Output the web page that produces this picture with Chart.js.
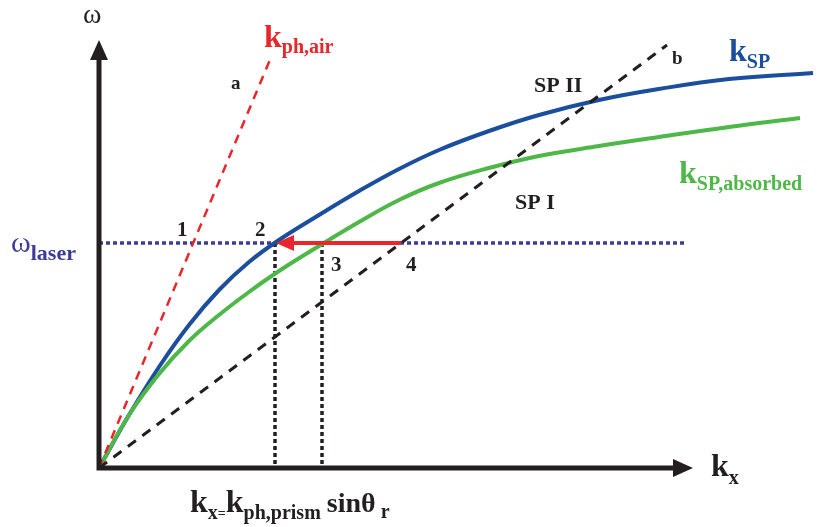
<!DOCTYPE html>
<html>
<head>
<meta charset="utf-8">
<script src="https://cdn.jsdelivr.net/npm/chart.js@4.4.1/dist/chart.umd.min.js"></script>
<style>
  body { margin: 0; background: #fff; }
  canvas { display: block; }
</style>
</head>
<body>
<canvas id="chart" width="822" height="527"></canvas>
<script>
// dispersion curves (kx, omega)
const kspPoints = [[0,0],[30,53],[60,101],[90,143],[120,178],[150,206],[180,228],[220,253],[260,277],[300,299],[340,318],[390,337],[440,353],[500,368],[560,379],[630,389],[714,395]];
const absorbedPoints = [[0,0],[30,53],[60,94],[90,127],[120,153],[150,176],[180,197],[220,222],[260,246],[300,268],[340,285],[390,300],[440,312],[500,322],[560,331],[630,341],[701,350]];
const airLine = [[0,0],[173,413]];
const prismLine = [[0,0],[568,423]];
const omegaLaser = 225;
const laserEnd = 587;
const k2 = 176;   // coupling point 2 (on k_SP)
const k3 = 223;   // coupling point 3 (on absorbed)
const k4 = 302;   // point 4 (prism line)
const axisEnd = { x: 594, y: 428 };

const toXY = pts => pts.map(p => ({ x: p[0], y: p[1] }));

const C_BLUE = '#1b4f9e';
const C_GREEN = '#4db848';
const C_RED = '#e8262b';
const C_LASER = '#3d3d98';
const C_BLACK = '#231f20';

const SERIF = '"Liberation Serif", "DejaVu Serif", serif';

function drawRich(ctx, x, y, parts, color) {
  ctx.fillStyle = color;
  ctx.textBaseline = 'alphabetic';
  ctx.textAlign = 'left';
  let cx = x;
  parts.forEach(p => {
    ctx.font = (p.normal ? '' : 'bold ') + p.size + 'px ' + SERIF;
    ctx.fillText(p.t, cx, y + (p.dy || 0));
    cx += ctx.measureText(p.t).width + (p.gap || 0);
  });
}

const decorPlugin = {
  id: 'decor',
  beforeDatasetsDraw(chart) {
    const ctx = chart.ctx;
    const xs = chart.scales.x, ys = chart.scales.y;
    const X = v => xs.getPixelForValue(v), Y = v => ys.getPixelForValue(v);
    ctx.save();
    // laser line
    ctx.strokeStyle = C_LASER;
    ctx.lineWidth = 3.5;
    ctx.setLineDash([4, 3]);
    ctx.beginPath();
    ctx.moveTo(X(0), Y(omegaLaser));
    ctx.lineTo(X(laserEnd), Y(omegaLaser));
    ctx.stroke();
    // vertical dotted drops
    ctx.strokeStyle = C_BLACK;
    ctx.lineWidth = 3.5;
    ctx.setLineDash([4, 3]);
    [k2, k3].forEach(k => {
      ctx.beginPath();
      ctx.moveTo(X(k), Y(omegaLaser));
      ctx.lineTo(X(k), Y(0));
      ctx.stroke();
    });
    ctx.restore();
  },
  afterDatasetsDraw(chart) {
    const ctx = chart.ctx;
    const xs = chart.scales.x, ys = chart.scales.y;
    const X = v => xs.getPixelForValue(v), Y = v => ys.getPixelForValue(v);
    ctx.save();
    ctx.setLineDash([]);
    // red arrow from 4 to 2
    const ay = Y(omegaLaser);
    ctx.strokeStyle = C_RED;
    ctx.fillStyle = C_RED;
    ctx.lineWidth = 4;
    ctx.beginPath();
    ctx.moveTo(X(k4), ay);
    ctx.lineTo(X(k2) + 16, ay);
    ctx.stroke();
    ctx.beginPath();
    ctx.moveTo(X(k2) + 1, ay);
    ctx.lineTo(X(k2) + 19, ay - 8);
    ctx.lineTo(X(k2) + 19, ay + 8);
    ctx.closePath();
    ctx.fill();

    // axes
    const ox = X(0), oy = Y(0);
    ctx.strokeStyle = C_BLACK;
    ctx.fillStyle = C_BLACK;
    ctx.lineWidth = 5;
    ctx.beginPath();
    ctx.moveTo(ox, oy + 2.5);
    ctx.lineTo(ox, Y(axisEnd.y) + 16);
    ctx.moveTo(ox - 2.5, oy);
    ctx.lineTo(X(axisEnd.x) - 16, oy);
    ctx.stroke();
    ctx.beginPath();
    ctx.moveTo(ox, Y(axisEnd.y));
    ctx.lineTo(ox - 9, Y(axisEnd.y) + 20);
    ctx.lineTo(ox + 9, Y(axisEnd.y) + 20);
    ctx.closePath();
    ctx.fill();
    ctx.beginPath();
    ctx.moveTo(X(axisEnd.x), oy);
    ctx.lineTo(X(axisEnd.x) - 20, oy - 9);
    ctx.lineTo(X(axisEnd.x) - 20, oy + 9);
    ctx.closePath();
    ctx.fill();

    // labels
    drawRich(ctx, 83, 23, [{ t: 'ω', size: 28, normal: true }], C_BLACK);
    drawRich(ctx, 264, 47, [{ t: 'k', size: 32 }, { t: 'ph,air', size: 20, dy: 6 }], C_RED);
    drawRich(ctx, 231, 89, [{ t: 'a', size: 19 }], C_BLACK);
    drawRich(ctx, 672, 64, [{ t: 'b', size: 19 }], C_BLACK);
    drawRich(ctx, 729, 61, [{ t: 'k', size: 32 }, { t: 'SP', size: 20, dy: 7 }], C_BLUE);
    drawRich(ctx, 534, 92, [{ t: 'SP II', size: 22 }], C_BLACK);
    drawRich(ctx, 515, 209, [{ t: 'SP I', size: 22 }], C_BLACK);
    drawRich(ctx, 679, 183, [{ t: 'k', size: 32 }, { t: 'SP,absorbed', size: 20, dy: 7 }], C_GREEN);
    drawRich(ctx, 11, 252, [{ t: 'ω', size: 30, normal: true }, { t: 'laser', size: 22, dy: 8 }], C_LASER);
    drawRich(ctx, 177, 236, [{ t: '1', size: 21 }], C_BLACK);
    drawRich(ctx, 255, 236, [{ t: '2', size: 21 }], C_BLACK);
    drawRich(ctx, 331, 271, [{ t: '3', size: 21 }], C_BLACK);
    drawRich(ctx, 406, 271, [{ t: '4', size: 21 }], C_BLACK);
    drawRich(ctx, 711, 476, [{ t: 'k', size: 32 }, { t: 'x', size: 20, dy: 8 }], C_BLACK);
    drawRich(ctx, 190, 512, [
      { t: 'k', size: 32 }, { t: 'x', size: 20, dy: 7 }, { t: '=', size: 14, dy: 6 },
      { t: 'k', size: 32 }, { t: 'ph,prism', size: 20, dy: 7, gap: 6 },
      { t: 'sinθ', size: 28 }, { t: ' r', size: 20, dy: 6 }
    ], C_BLACK);
    ctx.restore();
  }
};

new Chart(document.getElementById('chart'), {
  type: 'scatter',
  data: {
    datasets: [
      {
        label: 'k_ph,air', data: toXY(airLine), showLine: true,
        borderColor: C_RED, borderWidth: 2.5, borderDash: [9, 7], pointRadius: 0
      },
      {
        label: 'prism', data: toXY(prismLine), showLine: true,
        borderColor: C_BLACK, borderWidth: 3, borderDash: [10, 8], pointRadius: 0
      },
      {
        label: 'k_SP,absorbed', data: toXY(absorbedPoints), showLine: true,
        borderColor: C_GREEN, borderWidth: 4, pointRadius: 0, tension: 0.4
      },
      {
        label: 'k_SP', data: toXY(kspPoints), showLine: true,
        borderColor: C_BLUE, borderWidth: 4, pointRadius: 0, tension: 0.4
      }
    ]
  },
  options: {
    responsive: false,
    animation: false,
    layout: { padding: 0 },
    plugins: { legend: { display: false }, tooltip: { enabled: false } },
    scales: {
      x: { display: false, min: -99, max: 723 },
      y: { display: false, min: -59, max: 468 }
    }
  },
  plugins: [decorPlugin]
});
</script>
</body>
</html>
